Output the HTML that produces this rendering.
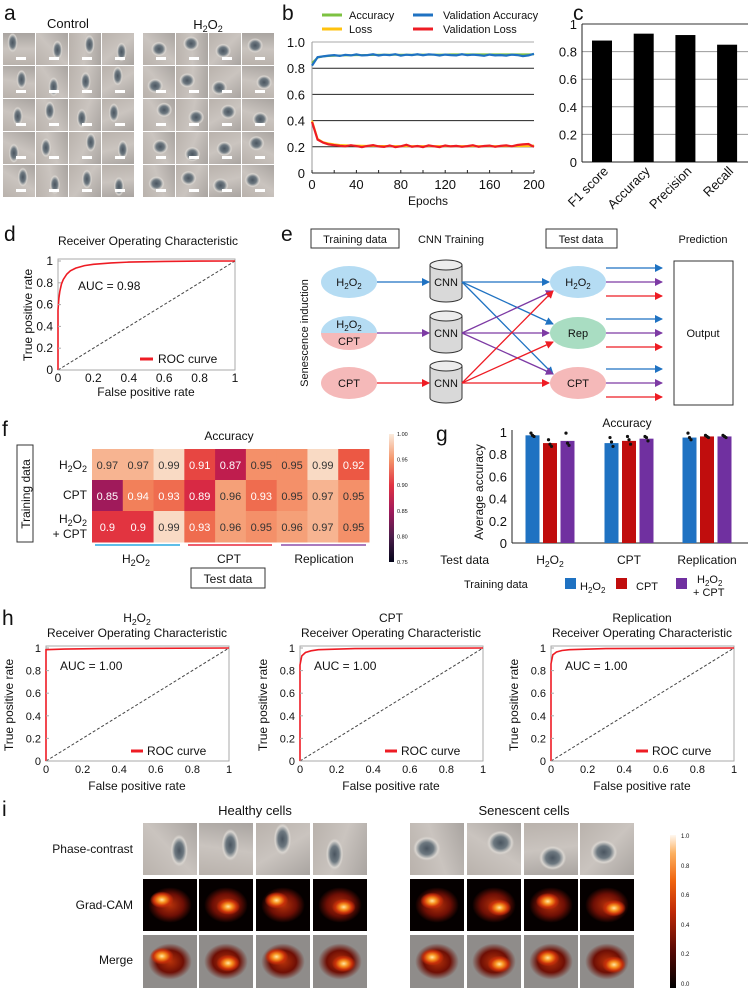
<!DOCTYPE html>
<html><head><meta charset="utf-8">
<style>
html,body{margin:0;padding:0;background:#fff;}
#root{position:relative;width:748px;height:988px;overflow:hidden;font-family:"Liberation Sans",Arial,sans-serif;}
svg{position:absolute;left:0;top:0;}
.tile{position:absolute;box-sizing:border-box;}
text{font-family:"Liberation Sans",Arial,sans-serif;fill:#111;}
</style></head>
<body>
<div id="root">
<div id="tiles"></div>
<svg id="fig" width="748" height="988" viewBox="0 0 748 988">
<defs>
<marker id="mb" markerWidth="8" markerHeight="8" refX="7" refY="4" orient="auto" markerUnits="userSpaceOnUse"><path d="M0,0L8,4L0,8z" fill="#1f72c2"/></marker>
<marker id="mp" markerWidth="8" markerHeight="8" refX="7" refY="4" orient="auto" markerUnits="userSpaceOnUse"><path d="M0,0L8,4L0,8z" fill="#7d3aa4"/></marker>
<marker id="mr" markerWidth="8" markerHeight="8" refX="7" refY="4" orient="auto" markerUnits="userSpaceOnUse"><path d="M0,0L8,4L0,8z" fill="#ee1c24"/></marker>
<linearGradient id="rocket" x1="0" y1="1" x2="0" y2="0">
<stop offset="0" stop-color="#03051a"/><stop offset="0.2" stop-color="#4c1d4b"/><stop offset="0.4" stop-color="#a11a5b"/><stop offset="0.6" stop-color="#e13342"/><stop offset="0.8" stop-color="#f4956a"/><stop offset="1" stop-color="#faebdd"/></linearGradient>
<linearGradient id="hot" x1="0" y1="1" x2="0" y2="0">
<stop offset="0" stop-color="#000"/><stop offset="0.25" stop-color="#5a0a05"/><stop offset="0.5" stop-color="#c02a07"/><stop offset="0.7" stop-color="#f0640f"/><stop offset="0.88" stop-color="#fcb060"/><stop offset="1" stop-color="#fff8f0"/></linearGradient>
<clipPath id="topHalf"><rect x="300" y="300" width="100" height="33"/></clipPath>
<clipPath id="botHalf"><rect x="300" y="333" width="100" height="40"/></clipPath>
</defs>

<!-- panel letters -->
<g font-size="21">
<text x="4" y="20">a</text>
<text x="282" y="20">b</text>
<text x="573" y="20">c</text>
<text x="4" y="241">d</text>
<text x="281" y="241">e</text>
<text x="2" y="436">f</text>
<text x="436" y="441">g</text>
<text x="2" y="625">h</text>
<text x="2" y="816">i</text>
</g>

<!-- panel a titles -->
<text x="68" y="28" font-size="13" text-anchor="middle">Control</text>
<text x="208" y="29" font-size="13" text-anchor="middle">H<tspan font-size="9" dy="3">2</tspan><tspan dy="-3">O</tspan><tspan font-size="9" dy="3">2</tspan></text>

<!-- panel b static -->
<g id="panelB">
<line x1="322" y1="15" x2="342" y2="15" stroke="#7dc241" stroke-width="3"/>
<text x="349" y="19" font-size="11">Accuracy</text>
<line x1="322" y1="29" x2="342" y2="29" stroke="#ffc20e" stroke-width="3"/>
<text x="349" y="33" font-size="11">Loss</text>
<line x1="413" y1="15" x2="433" y2="15" stroke="#1f72c2" stroke-width="3"/>
<text x="443" y="19" font-size="11">Validation Accuracy</text>
<line x1="413" y1="29" x2="433" y2="29" stroke="#ee1c24" stroke-width="3"/>
<text x="443" y="33" font-size="11">Validation Loss</text>
<text x="428" y="205" font-size="12" text-anchor="middle">Epochs</text>
</g>
<g id="panelC"></g>

<!-- panel d static -->
<text x="148" y="245" font-size="12" text-anchor="middle">Receiver Operating Characteristic</text>
<text x="78" y="290" font-size="12">AUC = 0.98</text>
<text transform="translate(32,315) rotate(-90)" font-size="12" text-anchor="middle">True positive rate</text>
<text x="146" y="396" font-size="12" text-anchor="middle">False positive rate</text>
<line x1="140" y1="359" x2="153" y2="359" stroke="#ee1c24" stroke-width="3"/>
<text x="158" y="363" font-size="12">ROC curve</text>

<!-- panel e diagram -->
<g id="panelE" font-size="11">
<rect x="311" y="229" width="88" height="19" fill="none" stroke="#333"/>
<text x="355" y="243" text-anchor="middle">Training data</text>
<text x="451" y="243" text-anchor="middle">CNN Training</text>
<rect x="546" y="229" width="71" height="19" fill="none" stroke="#333"/>
<text x="581" y="243" text-anchor="middle">Test data</text>
<text x="703" y="243" text-anchor="middle">Prediction</text>
<text transform="translate(308,333) rotate(-90)" text-anchor="middle">Senescence induction</text>
<ellipse cx="349" cy="282" rx="28" ry="16" fill="#b5dcf3"/>
<text x="349" y="286" text-anchor="middle">H<tspan font-size="8" dy="3">2</tspan><tspan dy="-3">O</tspan><tspan font-size="8" dy="3">2</tspan></text>
<ellipse cx="349" cy="333" rx="28" ry="17" fill="#b5dcf3" clip-path="url(#topHalf)"/>
<ellipse cx="349" cy="333" rx="28" ry="17" fill="#f5b9b9" clip-path="url(#botHalf)"/>
<text x="349" y="328" text-anchor="middle">H<tspan font-size="8" dy="3">2</tspan><tspan dy="-3">O</tspan><tspan font-size="8" dy="3">2</tspan></text>
<text x="349" y="345" text-anchor="middle">CPT</text>
<ellipse cx="349" cy="383" rx="28" ry="16" fill="#f5b9b9"/>
<text x="349" y="387" text-anchor="middle">CPT</text>
<g id="cyls"></g>
<ellipse cx="578" cy="282" rx="28" ry="16" fill="#b5dcf3"/>
<text x="578" y="286" text-anchor="middle">H<tspan font-size="8" dy="3">2</tspan><tspan dy="-3">O</tspan><tspan font-size="8" dy="3">2</tspan></text>
<ellipse cx="578" cy="333" rx="28" ry="16" fill="#a9ddc2"/>
<text x="578" y="337" text-anchor="middle">Rep</text>
<ellipse cx="578" cy="383" rx="28" ry="16" fill="#f5b9b9"/>
<text x="578" y="387" text-anchor="middle">CPT</text>
<rect x="674" y="261" width="59" height="144" fill="none" stroke="#333"/>
<text x="703" y="337" text-anchor="middle">Output</text>
<g id="arrows"></g>
</g>

<!-- panel f static -->
<g id="panelF">
<text x="229" y="440" font-size="12" text-anchor="middle">Accuracy</text>
<rect x="17" y="445" width="16" height="97" fill="none" stroke="#333"/>
<text transform="translate(30,494) rotate(-90)" font-size="12" text-anchor="middle">Training data</text>
<text x="87" y="469" font-size="12" text-anchor="end">H<tspan font-size="9" dy="3">2</tspan><tspan dy="-3">O</tspan><tspan font-size="9" dy="3">2</tspan></text>
<text x="87" y="499" font-size="12" text-anchor="end">CPT</text>
<text x="87" y="523" font-size="12" text-anchor="end">H<tspan font-size="9" dy="3">2</tspan><tspan dy="-3">O</tspan><tspan font-size="9" dy="3">2</tspan></text>
<text x="87" y="538" font-size="12" text-anchor="end">+ CPT</text>
<line x1="95" y1="545" x2="180" y2="545" stroke="#29a8e0" stroke-width="1.5"/>
<line x1="188" y1="545" x2="272" y2="545" stroke="#e8283c" stroke-width="1.5"/>
<line x1="281" y1="545" x2="366" y2="545" stroke="#8e4fa8" stroke-width="1.5"/>
<text x="136" y="563" font-size="12" text-anchor="middle">H<tspan font-size="9" dy="3">2</tspan><tspan dy="-3">O</tspan><tspan font-size="9" dy="3">2</tspan></text>
<text x="229" y="563" font-size="12" text-anchor="middle">CPT</text>
<text x="324" y="563" font-size="12" text-anchor="middle">Replication</text>
<rect x="191" y="568" width="74" height="20" fill="none" stroke="#333"/>
<text x="228" y="583" font-size="12" text-anchor="middle">Test data</text>
<rect x="389" y="434" width="5" height="128" fill="url(#rocket)"/>
</g>

<!-- panel g static -->
<g id="panelG">
<text x="627" y="427" font-size="12" text-anchor="middle">Accuracy</text>
<text transform="translate(483,492) rotate(-90)" font-size="12" text-anchor="middle">Average accuracy</text>
<text x="489" y="564" font-size="12" text-anchor="end">Test data</text>
<text x="464" y="588" font-size="11">Training data</text>
<rect x="565" y="578" width="11" height="11" fill="#1f72c2"/>
<text x="580" y="590" font-size="11">H<tspan font-size="8" dy="3">2</tspan><tspan dy="-3">O</tspan><tspan font-size="8" dy="3">2</tspan></text>
<rect x="616" y="578" width="11" height="11" fill="#c00d0d"/>
<text x="636" y="590" font-size="11">CPT</text>
<rect x="676" y="578" width="11" height="11" fill="#7030a0"/>
<text x="697" y="583" font-size="11">H<tspan font-size="8" dy="3">2</tspan><tspan dy="-3">O</tspan><tspan font-size="8" dy="3">2</tspan></text>
<text x="693" y="596" font-size="11">+ CPT</text>
</g>

<!-- panel h titles -->
<g id="panelH"></g>

<!-- panel i labels -->
<text x="255" y="815" font-size="13" text-anchor="middle">Healthy cells</text>
<text x="524" y="815" font-size="13" text-anchor="middle">Senescent cells</text>
<text x="133" y="853" font-size="12" text-anchor="end">Phase-contrast</text>
<text x="133" y="909" font-size="12" text-anchor="end">Grad-CAM</text>
<text x="133" y="964" font-size="12" text-anchor="end">Merge</text>
<rect x="670" y="835" width="6" height="153" fill="url(#hot)"/>
<g font-size="6" fill="#555">
<text x="681" y="838">1.0</text>
<text x="681" y="868">0.8</text>
<text x="681" y="897">0.6</text>
<text x="681" y="927">0.4</text>
<text x="681" y="956">0.2</text>
<text x="681" y="986">0.0</text>
</g>
</svg>
</div>

<script>
// ---------- chart data ----------
const epochs = [0,5,10,15,20,25,30,35,40,45,50,55,60,65,70,75,80,85,90,95,100,105,110,115,120,125,130,135,140,145,150,155,160,165,170,175,180,185,190,195,200];
const accSeries = [0.84,0.88,0.89,0.893,0.895,0.897,0.898,0.899,0.9,0.9,0.901,0.901,0.902,0.902,0.902,0.903,0.903,0.903,0.903,0.904,0.904,0.904,0.904,0.904,0.904,0.905,0.905,0.905,0.905,0.905,0.905,0.905,0.905,0.905,0.905,0.905,0.905,0.905,0.905,0.905,0.905];
const valAccSeries = [0.82,0.885,0.89,0.896,0.9,0.894,0.902,0.898,0.905,0.898,0.9,0.906,0.897,0.903,0.9,0.907,0.896,0.903,0.9,0.906,0.899,0.905,0.903,0.897,0.904,0.9,0.898,0.906,0.899,0.903,0.9,0.895,0.904,0.898,0.9,0.896,0.903,0.9,0.892,0.898,0.91];
const lossSeries = [0.4,0.26,0.235,0.225,0.218,0.214,0.212,0.21,0.209,0.208,0.207,0.207,0.206,0.206,0.206,0.205,0.205,0.205,0.205,0.205,0.205,0.205,0.205,0.205,0.205,0.205,0.205,0.205,0.205,0.205,0.205,0.205,0.205,0.205,0.205,0.205,0.205,0.205,0.205,0.205,0.21];
const valLossSeries = [0.39,0.255,0.232,0.218,0.213,0.208,0.204,0.212,0.205,0.198,0.207,0.213,0.203,0.199,0.21,0.198,0.204,0.215,0.2,0.206,0.198,0.211,0.204,0.198,0.21,0.203,0.207,0.2,0.205,0.212,0.2,0.206,0.209,0.2,0.207,0.211,0.204,0.214,0.218,0.221,0.2];
const bTicksY = [0,0.2,0.4,0.6,0.8,1.0];
const bTickLabelsY = ["0","0.2","0.4","0.6","0.8","1.0"];
const bTicksX = [0,40,80,120,160,200];

const metricNames = ["F1 score","Accuracy","Precision","Recall"];
const metricValues = [0.88,0.93,0.92,0.85];
const cTicks = [0,0.2,0.4,0.6,0.8,1];
const cTickLabels = ["0","0.2","0.4","0.6","0.8","1"];

const rocFpr = [0,0,0.005,0.01,0.02,0.03,0.05,0.07,0.1,0.15,0.2,0.3,0.4,0.6,0.8,1];
const rocTpr = [0,0.55,0.66,0.72,0.79,0.83,0.88,0.91,0.935,0.958,0.97,0.983,0.99,0.996,0.999,1];
const rocTicks = [0,0.2,0.4,0.6,0.8,1];
const rocTickLabels = ["0","0.2","0.4","0.6","0.8","1"];

const heatRows = ["H2O2","CPT","H2O2 + CPT"];
const heatRow0 = [0.97,0.97,0.99,0.91,0.87,0.95,0.95,0.99,0.92];
const heatRow1 = [0.85,0.94,0.93,0.89,0.96,0.93,0.95,0.97,0.95];
const heatRow2 = [0.9,0.9,0.99,0.93,0.96,0.95,0.96,0.97,0.95];
const heatCbarTicks = [0.75,0.80,0.85,0.90,0.95,1.00];
const heatCbarLabels = ["0.75","0.80","0.85","0.90","0.95","1.00"];

const gGroups = ["H2O2","CPT","Replication"];
const gTrainH2O2 = [0.97,0.90,0.95];
const gTrainCPT = [0.90,0.92,0.96];
const gTrainMixed = [0.92,0.94,0.96];
const gDotsH2O2 = [[0.99,0.97,0.96],[0.95,0.91,0.87],[0.99,0.95,0.93]];
const gDotsCPT = [[0.93,0.89,0.87],[0.96,0.93,0.89],[0.97,0.96,0.95]];
const gDotsMixed = [[0.99,0.9,0.88],[0.96,0.95,0.92],[0.97,0.96,0.95]];
const gTicks = [0,0.2,0.4,0.6,0.8,1];
const gTickLabels = ["0","0.2","0.4","0.6","0.8","1"];

const hTitles = ["H2O2","CPT","Replication"];
const hFpr0 = [0,0,0.1,0.3,1];
const hTpr0 = [0,0.985,0.99,0.995,1];
const hFpr1 = [0,0,0.01,0.03,0.06,0.1,0.3,1];
const hTpr1 = [0,0.85,0.93,0.96,0.975,0.985,0.995,1];
const hFpr2 = [0,0,0.01,0.03,0.06,0.1,0.3,1];
const hTpr2 = [0,0.86,0.94,0.965,0.978,0.985,0.995,1];
const hAuc = ["AUC = 1.00","AUC = 1.00","AUC = 1.00"];

const NS = "http://www.w3.org/2000/svg";
const svg = document.getElementById("fig");
function mk(tag, attrs, parent, txt) {
  const e = document.createElementNS(NS, tag);
  for (const k in attrs) e.setAttribute(k, attrs[k]);
  if (txt !== undefined) e.textContent = txt;
  (parent || svg).appendChild(e);
  return e;
}
function sub(el, s) {
  // render H2O2 with subscripts
  if (s.indexOf("H2O2") === 0) {
    el.textContent = "";
    const fs = parseFloat(el.getAttribute("font-size") || 12) * 0.72;
    const a = document.createElementNS(NS,"tspan"); a.textContent="H"; el.appendChild(a);
    const b = document.createElementNS(NS,"tspan"); b.textContent="2"; b.setAttribute("font-size",fs); b.setAttribute("dy","3"); el.appendChild(b);
    const c = document.createElementNS(NS,"tspan"); c.textContent="O"; c.setAttribute("dy","-3"); el.appendChild(c);
    const d = document.createElementNS(NS,"tspan"); d.textContent="2"; d.setAttribute("font-size",fs); d.setAttribute("dy","3"); el.appendChild(d);
    if (s.length > 4) { const e2 = document.createElementNS(NS,"tspan"); e2.textContent=s.slice(4); e2.setAttribute("dy","-3"); el.appendChild(e2); }
  } else el.textContent = s;
}

// ---------- panel b ----------
const gB = document.getElementById("panelB");
const xB = e => 312 + e / 200 * 222;
const yB = v => 173 - v * 131;
bTicksY.forEach((t, i) => {
  if (t > 0) {
    const ln = mk("line", {x1: 312, x2: 534, y1: yB(t), y2: yB(t), stroke: t === 1 ? "#aaa" : "#222", "stroke-width": 1}, gB);
    
    
  }
  const tx = mk("text", {x: 305, y: yB(t) + 5, "font-size": 13, "text-anchor": "end"}, gB, bTickLabelsY[i]);
  
  
});
const bAxY = mk("line", {x1: 312, x2: 312, y1: yB(1), y2: yB(0), stroke: "#999"}, gB);


const bAxX = mk("line", {x1: 312, x2: 534, y1: yB(0), y2: yB(0), stroke: "#222"}, gB);


for (let e = 0; e <= 200; e += 20) {
  const tk = mk("line", {x1: xB(e), x2: xB(e), y1: yB(0), y2: yB(0) - 3, stroke: "#222"}, gB);
  
  
}
bTicksX.forEach(t => {
  const tx = mk("text", {x: xB(t), y: 189, "font-size": 13, "text-anchor": "middle"}, gB, String(t));
  
  
});
function bLine(vals, color, name, w) {
  const d = vals.map((v, i) => (i ? "L" : "M") + xB(epochs[i]).toFixed(1) + "," + yB(v).toFixed(1)).join("");
  const p = mk("path", {d: d, fill: "none", stroke: color, "stroke-width": w}, gB);
  
  
}
bLine(accSeries, "#7dc241", "accuracy-line", 2);
bLine(lossSeries, "#ffc20e", "loss-line", 2);
bLine(valAccSeries, "#1f72c2", "validation-accuracy-line", 2.2);
bLine(valLossSeries, "#ee1c24", "validation-loss-line", 2.2);

// ---------- panel c ----------
const gC = document.getElementById("panelC");
const yC = v => 162 - v * 138;
cTicks.forEach((t, i) => {
  if (t > 0) {
    const ln = mk("line", {x1: 582, x2: 748, y1: yC(t), y2: yC(t), stroke: t === 1 ? "#333" : "#999"}, gC);
    
    
  }
  const tx = mk("text", {x: 577, y: yC(t) + 5, "font-size": 13, "text-anchor": "end"}, gC, cTickLabels[i]);
  
  
});
const cAx = mk("line", {x1: 582, x2: 582, y1: yC(1), y2: yC(0), stroke: "#222"}, gC);


const cAxX = mk("line", {x1: 582, x2: 748, y1: yC(0), y2: yC(0), stroke: "#222"}, gC);


metricValues.forEach((v, i) => {
  const cx = 602 + i * 41.7;
  const r = mk("rect", {x: cx - 10, y: yC(v), width: 20, height: yC(0) - yC(v), fill: "#000"}, gC);
  
  
  const tx = mk("text", {transform: "translate(" + (cx + 7) + ",172) rotate(-45)", "font-size": 13, "text-anchor": "end"}, gC, metricNames[i]);
  
  
});

// ---------- ROC helper ----------
function rocPlot(x0, w, yTop, yBot, fpr, tpr, name, labelFs) {
  const g = mk("g", {});
  
  
  const xS = f => x0 + f * w;
  const yS = t => yBot - t * (yBot - yTop);
  const box = mk("rect", {x: x0, y: yTop - 2, width: w, height: yBot - yTop + 2, fill: "none", stroke: "#aaa"}, g);
  
  
  const diag = mk("line", {x1: xS(0), y1: yS(0), x2: xS(1), y2: yS(1), stroke: "#444", "stroke-dasharray": "3,2", "stroke-width": 1}, g);
  
  
  const d = fpr.map((f, i) => (i ? "L" : "M") + xS(f).toFixed(1) + "," + yS(tpr[i]).toFixed(1)).join("");
  const p = mk("path", {d: d, fill: "none", stroke: "#ee1c24", "stroke-width": 1.6}, g);
  
  
  rocTicks.forEach((t, i) => {
    const a = mk("text", {x: x0 - 5, y: yS(t) + 4, "font-size": labelFs, "text-anchor": "end"}, g, rocTickLabels[i]);
    
    
    const b = mk("text", {x: xS(t), y: yBot + 12, "font-size": labelFs, "text-anchor": "middle"}, g, rocTickLabels[i]);
    
    
    const tk = mk("line", {x1: x0, x2: x0 + 3, y1: yS(t), y2: yS(t), stroke: "#aaa"}, g);
    
    
  });
  return g;
}
rocPlot(58, 177, 261, 370, rocFpr, rocTpr, "roc-d", 12);

// ---------- panel e ----------
const gCyl = document.getElementById("cyls");
[282, 333, 383].forEach((cy, i) => {
  const body = mk("path", {d: "M430," + (cy - 17) + "L430," + (cy + 15) + "A16,5 0 0 0 462," + (cy + 15) + "L462," + (cy - 17), fill: "#d9d9d9", stroke: "#333"}, gCyl);
  
  
  const top = mk("ellipse", {cx: 446, cy: cy - 17, rx: 16, ry: 5, fill: "#ececec", stroke: "#333"}, gCyl);
  
  
  const t = mk("text", {x: 446, y: cy + 4, "text-anchor": "middle", "font-size": 11}, gCyl, "CNN");
  
  
});
const gArr = document.getElementById("arrows");
const cols = [["#1f72c2", "mb"], ["#7d3aa4", "mp"], ["#ee1c24", "mr"]];
const ys = [282, 333, 383];
ys.forEach((y, i) => {
  const a = mk("line", {x1: 377, y1: y, x2: 429, y2: y, stroke: cols[i][0], "stroke-width": 1.3, "marker-end": "url(#" + cols[i][1] + ")"}, gArr);
  
  
  ys.forEach((y2, j) => {
    const tx = j === i ? 549 : 553;
    const ty = y2 + (i < j ? -9 : i > j ? 9 : 0) * (j === i ? 0 : 1);
    const b = mk("line", {x1: 462, y1: y, x2: tx, y2: ty, stroke: cols[i][0], "stroke-width": 1.3, "marker-end": "url(#" + cols[i][1] + ")"}, gArr);
    
    
  });
});
ys.forEach(y => {
  [-14, 0, 14].forEach((o, k) => {
    const c = mk("line", {x1: 606, y1: y + o, x2: 662, y2: y + o, stroke: cols[k][0], "stroke-width": 1.3, "marker-end": "url(#" + cols[k][1] + ")"}, gArr);
    
    
  });
});

// ---------- panel f ----------
const gF = document.getElementById("panelF");
const heatStops = [[0.75,[3,5,26]],[0.80,[76,29,75]],[0.85,[160,26,91]],[0.88,[206,30,72]],[0.90,[226,52,64]],[0.92,[236,88,68]],[0.94,[242,128,90]],[0.96,[245,160,120]],[0.98,[248,200,170]],[1.0,[250,235,221]]];
function heatColor(v) {
  for (let k = 1; k < heatStops.length; k++) {
    if (v <= heatStops[k][0]) {
      const a = heatStops[k - 1], b = heatStops[k], t = (v - a[0]) / (b[0] - a[0]);
      const c = a[1].map((x, m) => Math.round(x + (b[1][m] - x) * t));
      return "rgb(" + c.join(",") + ")";
    }
  }
  return "rgb(250,235,221)";
}
const cw = (369 - 92) / 9, ch = 31;
[heatRow0, heatRow1, heatRow2].forEach((row, i) => {
  row.forEach((v, j) => {
    const r = mk("rect", {x: 92 + j * cw, y: 449 + i * ch, width: cw + 0.5, height: ch + 0.5, fill: heatColor(v)}, gF);
    
    
    const t = mk("text", {x: 92 + j * cw + cw / 2, y: 449 + i * ch + 20, "font-size": 11, "text-anchor": "middle", fill: v < 0.945 ? "#fff" : "#333"}, gF, String(v));
    t.style.fill = v < 0.945 ? "#fff" : "#333";
    
    
  });
});
heatCbarTicks.forEach((t, i) => {
  const y = 562 - (t - 0.75) / 0.25 * 128;
  const tx = mk("text", {x: 397, y: y + 2, "font-size": 5.5, fill: "#555"}, gF, heatCbarLabels[i]);
  
  
});

// ---------- panel g ----------
const gG = document.getElementById("panelG");
const yG = v => 543 - v * 111;
const gCenters = [550, 629, 707];
gTicks.forEach((t, i) => {
  const tx = mk("text", {x: 507, y: yG(t) + 5, "font-size": 13, "text-anchor": "end"}, gG, gTickLabels[i]);
  
  
});
const gAxY = mk("line", {x1: 512, x2: 512, y1: yG(1) - 2, y2: yG(0), stroke: "#222"}, gG);


const gAxX = mk("line", {x1: 512, x2: 748, y1: yG(0), y2: yG(0), stroke: "#222"}, gG);


const gSeries = [[gTrainH2O2, gDotsH2O2, "#1f72c2"], [gTrainCPT, gDotsCPT, "#c00d0d"], [gTrainMixed, gDotsMixed, "#7030a0"]];
gSeries.forEach((s, k) => {
  s[0].forEach((v, gi) => {
    const cx = gCenters[gi] + (k - 1) * 17.5;
    const r = mk("rect", {x: cx - 7, y: yG(v), width: 14, height: yG(0) - yG(v), fill: s[2]}, gG);
    
    
    s[1][gi].forEach((dv, di) => {
      const c = mk("circle", {cx: cx + (di - 1) * 1.5, cy: yG(dv), r: 1.6, fill: "#111"}, gG);
      
      
    });
  });
});
gGroups.forEach((gname, gi) => {
  const t = mk("text", {x: gCenters[gi], y: 564, "font-size": 12, "text-anchor": "middle"}, gG);
  sub(t, gname);
  
  
});

// ---------- panel h ----------
const gH = document.getElementById("panelH");
const hX0 = [46, 300, 551];
const hData = [[hFpr0, hTpr0], [hFpr1, hTpr1], [hFpr2, hTpr2]];
hX0.forEach((x0, i) => {
  const g = rocPlot(x0, 183, 648, 761, hData[i][0], hData[i][1], "roc-h-" + (i + 1), 11);
  const cx = x0 + 91;
  const t1 = mk("text", {x: cx, y: 622, "font-size": 12, "text-anchor": "middle"}, gH);
  sub(t1, hTitles[i]);
  
  
  const t2 = mk("text", {x: cx, y: 637, "font-size": 12, "text-anchor": "middle"}, gH, "Receiver Operating Characteristic");
  
  
  const a = mk("text", {x: x0 + 14, y: 670, "font-size": 12}, gH, hAuc[i]);
  
  
  const yl = mk("text", {transform: "translate(" + (x0 - 33) + ",705) rotate(-90)", "font-size": 12, "text-anchor": "middle"}, gH, "True positive rate");
  
  
  const xl = mk("text", {x: cx, y: 790, "font-size": 12, "text-anchor": "middle"}, gH, "False positive rate");
  
  
  const ls = mk("line", {x1: x0 + 85, x2: x0 + 97, y1: 751, y2: 751, stroke: "#ee1c24", "stroke-width": 3}, gH);
  
  
  const lt = mk("text", {x: x0 + 101, y: 755, "font-size": 12}, gH, "ROC curve");
  
  
});

// ---------- image tiles ----------
const tiles = document.getElementById("tiles");
function tile(x, y, w, h, bg, name) {
  const d = document.createElement("div");
  d.className = "tile";
  d.style.cssText = "left:" + x + "px;top:" + y + "px;width:" + w + "px;height:" + h + "px;background:" + bg + ";";
  
  
  tiles.appendChild(d);
  return d;
}
function cellBg(k, senescent) {
  const px = 30 + (k * 37) % 40, py = 30 + (k * 23) % 40;
  const ang = (k * 47) % 180;
  const rx = senescent ? 28 : 18, ry = senescent ? 26 : 34;
  return "radial-gradient(ellipse " + rx + "% " + ry + "% at " + px + "% " + py + "%, #4a5560 0%, #6d7880 45%, #d8d4cf 75%, transparent 90%)," +
         "linear-gradient(" + ang + "deg, #b9b2ac, #cac4bf 50%, #a9a4a0)";
}
const rowsA = [33, 66, 99, 132, 165];
rowsA.forEach((ry, r) => {
  for (let c = 0; c < 4; c++) {
    [[3, false, 'control'], [143, true, 'h2o2']].forEach(g => {
      const k = r * 4 + c + (g[1] ? 20 : 0);
      const t = tile(g[0] + c * 33, ry, 32, 32, cellBg(k, g[1]), 'cell-image-' + g[2]);
      const bar = document.createElement("div");
      bar.style.cssText = "position:absolute;left:13px;top:24px;width:10px;height:3px;background:#fff;";
      
      
      t.appendChild(bar);
    });
  }
});
const iCols = [143, 199, 256, 313, 410, 467, 524, 580];
const iRows = [[823, 'phase'], [879, 'gradcam'], [935, 'merge']];
iCols.forEach((x, c) => {
  const sen = c >= 4;
  const hx = 35 + (c * 19) % 35, hy = 40 + (c * 13) % 25;
  const heat = "radial-gradient(ellipse 22% 16% at " + hx + "% " + hy + "%, #ffe7a0 0%, #f7901e 35%, #c8300a 70%, transparent 100%)," +
               "radial-gradient(ellipse 45% 38% at 50% 50%, #b8320a 0%, #6e0f05 55%, transparent 90%)";
  tile(x, iRows[0][0], 54, 52, cellBg(c * 3 + 1, sen), 'phase-contrast-image');
  tile(x, iRows[1][0], 54, 52, heat + ",#050000", 'grad-cam-image');
  tile(x, iRows[2][0], 54, 53, heat + ",#8f8c8a", 'merge-image');
});
</script>
</body></html>
